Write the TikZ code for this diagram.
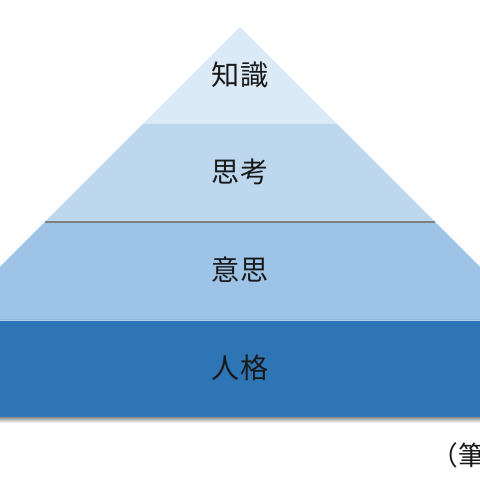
\documentclass[tikz,border=0pt]{standalone}
\usepackage{fontspec}
\setmainfont{Noto Sans CJK JP}
\usepackage{tikz}
\usetikzlibrary{shadows}
\definecolor{pylight}{RGB}{220,233,246}
\definecolor{pymid}{RGB}{189,215,238}
\definecolor{pyblue}{RGB}{157,195,230}
\definecolor{pydark}{RGB}{46,117,182}
\definecolor{pytext}{RGB}{25,25,25}
\tikzstyle{tier} = [text=pytext, font=\fontsize{20}{24}\selectfont, inner sep=0pt]
\tikzstyle{note} = [text=pytext, font=\fontsize{19}{23}\selectfont, inner sep=0pt, anchor=west]

\begin{document}
\begin{tikzpicture}[x=0.025cm, y=0.025cm]
\useasboundingbox (0,0) rectangle (480,480);
\clip (0,0) rectangle (480,480);
% Shadow of the pyramid
\fill[white, drop shadow={opacity=0.3, shadow xshift=0pt, shadow yshift=-1.5pt}] (240,453) -- (630,63) -- (-150,63) -- cycle;
\shade[top color=black!45, bottom color=white] (0,57) rectangle (480,63);

% Layers
\fill[pylight] (240,453) -- (337,356) -- (143,356) -- cycle;
\fill[pymid] (143,356) -- (337,356) -- (435,258) -- (45,258) -- cycle;
\fill[pyblue] (45,258) -- (435,258) -- (533,160) -- (-53,160) -- cycle;
\fill[pydark] (-53,160) -- (533,160) -- (630,63) -- (-150,63) -- cycle;
\draw[black!50, line width=0.8pt] (45,258) -- (435,258);
\draw[pyblue!80!white, line width=0.6pt] (-53,160) -- (533,160);

% Labels
\node[tier] (chishiki) at (240,405) {知識};
\node[tier] (shikou) at (240,308) {思考};
\node[tier] (ishi) at (240,210) {意思};
\node[tier] (jinkaku) at (240,112) {人格};

% Source note
\node[note] (source) at (431,25) {（筆};
\end{tikzpicture}
\end{document}
